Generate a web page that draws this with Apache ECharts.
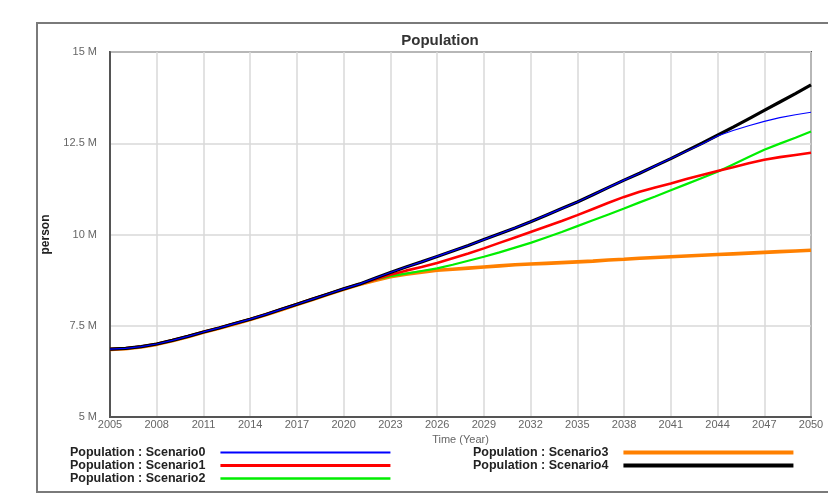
<!DOCTYPE html>
<html><head><meta charset="utf-8">
<script src="https://cdn.jsdelivr.net/npm/echarts@6/dist/echarts.min.js"></script>
<style>html,body{margin:0;padding:0;background:#fff}#c{width:828px;height:504px}</style>
</head><body><div id="c"></div>
<script>
const years = [2005,2006,2007,2008,2009,2010,2011,2012,2013,2014,2015,2016,2017,2018,2019,2020,2021,2022,2023,2024,2025,2026,2027,2028,2029,2030,2031,2032,2033,2034,2035,2036,2037,2038,2039,2040,2041,2042,2043,2044,2045,2046,2047,2048,2049,2050];

// Population in millions
const scenario0 = [6.86,6.88,6.93,7.00,7.10,7.21,7.33,7.44,7.56,7.68,7.81,7.95,8.09,8.23,8.37,8.51,8.64,
  8.80,8.96,9.11,9.25,9.40,9.55,9.70,9.86,10.02,10.18,10.35,10.53,10.71,10.89,11.09,11.29,11.49,11.68,11.88,12.08,12.28,12.48,12.70,12.85,12.98,13.10,13.20,13.28,13.35];
const scenario1 = [6.86,6.88,6.93,7.00,7.10,7.21,7.33,7.44,7.56,7.68,7.81,7.95,8.09,8.23,8.37,8.51,8.64,
  8.77,8.90,9.01,9.11,9.22,9.35,9.48,9.62,9.77,9.92,10.07,10.22,10.37,10.53,10.70,10.87,11.03,11.17,11.29,11.40,11.52,11.63,11.74,11.84,11.95,12.05,12.12,12.18,12.24];
const scenario2 = [6.86,6.88,6.93,7.00,7.10,7.21,7.33,7.44,7.56,7.68,7.81,7.95,8.09,8.23,8.37,8.51,8.63,
  8.76,8.86,8.93,9.00,9.07,9.17,9.28,9.39,9.51,9.64,9.77,9.92,10.07,10.23,10.39,10.55,10.71,10.88,11.04,11.21,11.38,11.55,11.72,11.92,12.12,12.32,12.49,12.65,12.82];
const scenario3 = [6.85,6.87,6.92,6.99,7.09,7.20,7.32,7.43,7.55,7.67,7.80,7.94,8.08,8.22,8.36,8.50,8.63,
  8.74,8.84,8.91,8.97,9.02,9.05,9.08,9.11,9.14,9.17,9.19,9.21,9.23,9.25,9.27,9.30,9.32,9.35,9.37,9.39,9.41,9.43,9.45,9.47,9.49,9.51,9.53,9.55,9.57];
const scenario4 = [6.86,6.88,6.93,7.00,7.10,7.21,7.33,7.44,7.56,7.68,7.81,7.95,8.09,8.23,8.37,8.51,8.64,
  8.80,8.96,9.11,9.25,9.40,9.55,9.70,9.86,10.02,10.18,10.35,10.53,10.71,10.89,11.09,11.29,11.49,11.68,11.88,12.08,12.29,12.50,12.72,12.94,13.17,13.40,13.63,13.86,14.10];

const seriesNames = ['Population : Scenario0','Population : Scenario1','Population : Scenario2','Population : Scenario3','Population : Scenario4'];
const seriesValues = [scenario0, scenario1, scenario2, scenario3, scenario4];

const colors = ['#0000ff','#ff0000','#00ee00','#ff8000','#000000'];
const widths = [1.2, 2.6, 2.2, 3.6, 3.2];
const legendWidths = [1.8, 3.2, 2.6, 3.8, 3.8];
const zs = [6, 4, 3, 2, 5];

const FONT = '"Liberation Sans", Arial, sans-serif';
const chart = echarts.init(document.getElementById('c'), null, {renderer: 'canvas'});

function pairs(vals) { return years.map((y, i) => [y, vals[i]]); }

const legendText = {fontFamily: FONT, fontSize: 12.5, lineHeight: 12, fontWeight: 'bold', color: '#222', padding: [0, 10, 0, 0]};
function legendData(idx) {
  return idx.map(i => ({name: seriesNames[i], lineStyle: {width: legendWidths[i]}}));
}

const option = {
  animation: false,
  backgroundColor: '#fff',
  title: {
    text: 'Population', left: 435, top: 28, textAlign: 'center',
    textStyle: {fontFamily: FONT, fontSize: 15, fontWeight: 'bold', color: '#333'}
  },
  grid: {left: 110, top: 52, right: 17, bottom: 87, show: true, borderColor: '#555', borderWidth: 2, containLabel: false},
  xAxis: {
    type: 'value', min: 2005, max: 2050, interval: 3,
    name: 'Time (Year)', nameLocation: 'middle', nameGap: 13,
    nameTextStyle: {fontFamily: FONT, fontSize: 11, color: '#666'},
    axisLine: {show: true, lineStyle: {color: '#555', width: 2}},
    axisTick: {show: false},
    axisLabel: {margin: 2, fontFamily: FONT, fontSize: 11, color: '#666', formatter: v => String(v), showMinLabel: true, showMaxLabel: true},
    splitLine: {show: true, lineStyle: {color: '#d9d9d9', width: 1.5}}
  },
  yAxis: {
    type: 'value', min: 5, max: 15, interval: 2.5,
    name: 'person', nameLocation: 'middle', nameGap: 58, nameRotate: 90,
    nameTextStyle: {fontFamily: FONT, fontSize: 12, fontWeight: 'bold', color: '#222'},
    axisLine: {show: true, lineStyle: {color: '#555', width: 2}},
    axisTick: {show: false},
    axisLabel: {margin: 13, fontFamily: FONT, fontSize: 11, color: '#666', formatter: v => v + ' M'},
    splitLine: {show: true, lineStyle: {color: '#d9d9d9', width: 1.5}}
  },
  legend: [
    {
      orient: 'vertical', left: 70, top: 446, align: 'right', itemWidth: 170, itemHeight: 12, itemGap: 0,
      padding: 0, selectedMode: false, textStyle: legendText, itemStyle: {opacity: 0},
      data: legendData([0, 1, 2])
    },
    {
      orient: 'vertical', left: 473, top: 446, align: 'right', itemWidth: 170, itemHeight: 12, itemGap: 0,
      padding: 0, selectedMode: false, textStyle: legendText, itemStyle: {opacity: 0},
      data: legendData([3, 4])
    }
  ],
  graphic: [{
    type: 'rect', silent: true, z: 100,
    shape: {x: 37, y: 23, width: 820, height: 469},
    style: {fill: 'none', stroke: '#7a7a7a', lineWidth: 2}
  }],
  series: seriesNames.map((name, i) => ({
    name: name, type: 'line', data: pairs(seriesValues[i]),
    showSymbol: false, symbol: 'circle', smooth: false, z: zs[i],
    lineStyle: {color: colors[i], width: widths[i]},
    itemStyle: {color: colors[i]}
  }))
};
chart.setOption(option);
</script>
</body></html>
